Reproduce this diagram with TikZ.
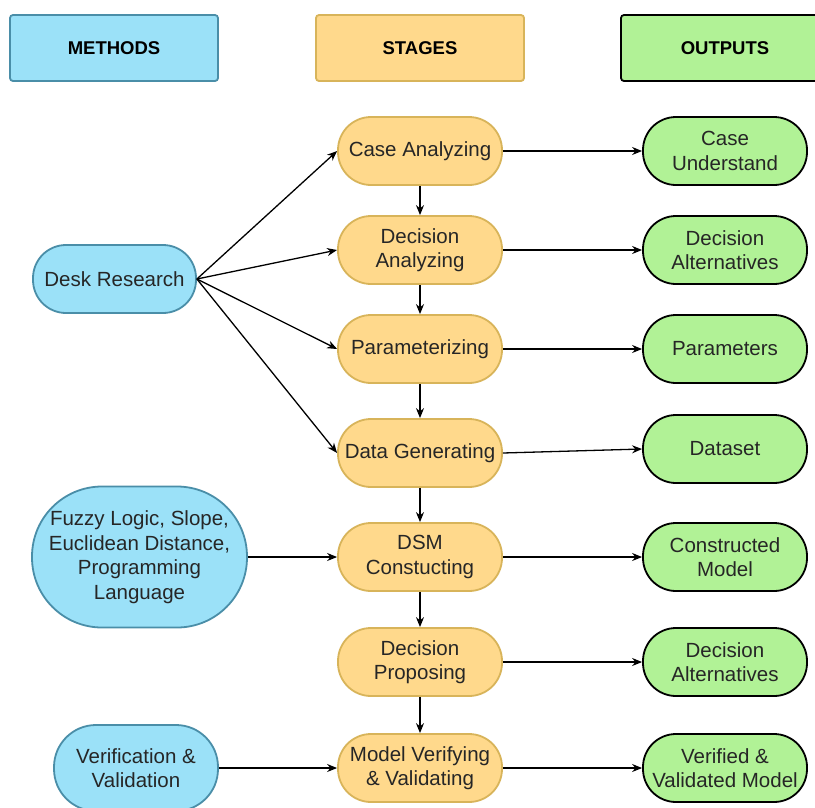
\documentclass[tikz,border=0pt]{standalone}
\usepackage{fontspec}
\setmainfont{Liberation Sans}
\usetikzlibrary{arrows.meta}
\definecolor{mfill}{HTML}{9BE1F8}
\definecolor{mline}{HTML}{4A8EA8}
\definecolor{sfill}{HTML}{FFD98C}
\definecolor{sline}{HTML}{D8B45A}
\definecolor{ofill}{HTML}{B1F296}
\begin{document}
\begin{tikzpicture}[x=1pt,y=-1pt,
  every node/.style={font=\fontsize{20.5}{24.5}\selectfont, align=center, inner sep=0pt, text=black!85},
  head/.style={line width=1.8pt, rounded corners=3pt, minimum width=208pt,
    minimum height=66pt, text=black, font=\fontsize{18.5}{20}\selectfont\bfseries},
  stagebox/.style={draw=sline, fill=sfill, line width=1.8pt, minimum width=164pt,
    minimum height=68pt, rounded corners=33pt},
  outbox/.style={draw=black, fill=ofill, line width=1.8pt, minimum width=164pt,
    minimum height=68pt, rounded corners=33pt},
  methbox/.style={draw=mline, fill=mfill, line width=1.8pt},
  arr/.style={-{Stealth[length=10pt,width=8pt]}, line width=1.3pt, black}
]
\clip (0,0) rectangle (815,807);
\fill[white] (0,0) rectangle (815,807);

% column headings
\node[head, draw=mline, fill=mfill] (hm) at (114,48) {METHODS};
\node[head, draw=sline, fill=sfill] (hs) at (420,48) {STAGES};
\node[head, draw=black, fill=ofill] (ho) at (725,48) {OUTPUTS};

% stages
\node[stagebox] (s1) at (420,151) {Case Analyzing};
\node[stagebox] (s2) at (420,250) {Decision\\Analyzing};
\node[stagebox] (s3) at (420,349) {Parameterizing};
\node[stagebox] (s4) at (420,453) {Data Generating};
\node[stagebox] (s5) at (420,557) {DSM\\Constucting};
\node[stagebox] (s6) at (420,662) {Decision\\Proposing};
\node[stagebox] (s7) at (420,768) {Model Verifying\\\& Validating};

% outputs
\node[outbox] (o1) at (725,151) {Case\\Understand};
\node[outbox] (o2) at (725,250) {Decision\\Alternatives};
\node[outbox] (o3) at (725,349) {Parameters};
\node[outbox] (o4) at (725,449) {Dataset};
\node[outbox] (o5) at (725,557) {Constructed\\Model};
\node[outbox] (o6) at (725,662) {Decision\\Alternatives};
\node[outbox] (o7) at (725,768) {Verified \&\\Validated Model};

% methods
\node[methbox, minimum width=163pt, minimum height=68pt, rounded corners=33pt]
  (m1) at (114.5,279) {Desk Research};
\node[methbox, minimum width=215pt, minimum height=141pt, rounded corners=70pt]
  (m2) at (139.5,557) {Fuzzy Logic, Slope,\\Euclidean Distance,\\Programming\\Language};
\node[methbox, minimum width=164pt, minimum height=86pt, rounded corners=42pt]
  (m3) at (136,768) {Verification \&\\Validation};

% stage sequence
\foreach \a/\b in {s1/s2,s2/s3,s3/s4,s4/s5,s5/s6,s6/s7}
  \draw[arr] (\a.south) -- (\b.north);

% stage outputs
\foreach \a/\b in {s1/o1,s2/o2,s3/o3,s4/o4,s5/o5,s6/o6,s7/o7}
  \draw[arr] (\a.east) -- (\b.west);

% methods feeding stages
\foreach \b in {s1,s2,s3,s4}
  \draw[arr] (m1.east) -- (\b.west);
\draw[arr] (m2.east) -- (s5.west);
\draw[arr] (m3.east) -- (s7.west);
\end{tikzpicture}
\end{document}
